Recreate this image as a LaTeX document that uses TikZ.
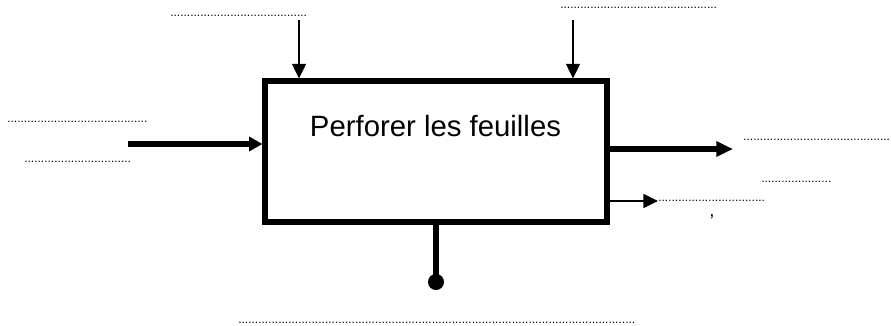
\documentclass[tikz,border=0pt]{standalone}
\usepackage{fontspec}
\setmainfont{Liberation Sans}
\usetikzlibrary{arrows.meta}
\newcommand\dotrowX[1]{\ifnum#1>0 .\expandafter\dotrowX\expandafter{\the\numexpr#1-1\relax}\fi}
\begin{document}
\begin{tikzpicture}[x=0.75pt,y=-0.75pt,
  box/.style={draw,line width=3.8pt,minimum width=342*0.75pt,minimum height=141*0.75pt,inner sep=0pt},
  thinarrow/.style={line width=1.1pt,-{Triangle[length=11pt,width=10.5pt]}},
  thickarrow/.style={line width=4.2pt,-{Triangle[length=10pt,width=10.5pt]}},
  thickarrowB/.style={line width=4.2pt,-{Triangle[length=12.5pt,width=11pt]}},
  dotlabel/.style={anchor=base west,inner sep=0pt,font=\fontsize{9}{10}\selectfont},
  lbl/.style={anchor=base,inner sep=0pt,font=\fontsize{22}{26}\selectfont}]
\useasboundingbox (0,0) rectangle (891,325);
\node[box] (fn) at (436,151.5) {};
\node[lbl] (title) at (435.5,136) {Perforer les feuilles};
% control inputs
\coordinate (c1) at (299,20);
\coordinate (c2) at (573,20);
\draw[thinarrow] (c1) -- (c1 |- fn.north);
\draw[thinarrow] (c2) -- (c2 |- fn.north);
% input
\coordinate (in) at (128,144);
\draw[thickarrow] (in) -- (in -| fn.west);
% outputs
\coordinate (o1) at (733,149);
\coordinate (o2) at (658,201);
\draw[thickarrowB] (o1 -| fn.east) -- (o1);
\draw[thinarrow] (o2 -| fn.east) -- (o2);
% mechanism
\coordinate (m) at (436,282);
\draw[line width=4.2pt] (m |- fn.south) -- (m);
\fill (m) circle[radius=8*0.75pt];
% dotted labels
\node[dotlabel] (d1) at (170,16) {\dotrowX{41}};
\node[dotlabel] (d2) at (560,8) {\dotrowX{47}};
\node[dotlabel] (d3) at (7,122) {\dotrowX{42}};
\node[dotlabel] (d4) at (24,162) {\dotrowX{32}};
\node[dotlabel] (d5) at (743,140) {\dotrowX{44}};
\node[dotlabel] (d6) at (761,182) {\dotrowX{21}};
\node[dotlabel] (d7) at (658,201) {\dotrowX{32}};
\node[dotlabel] (d8) at (238,323) {\dotrowX{119}};
\node[inner sep=0pt,font=\fontsize{14}{16}\selectfont] (ap) at (712,221) {’};
\end{tikzpicture}
\end{document}
